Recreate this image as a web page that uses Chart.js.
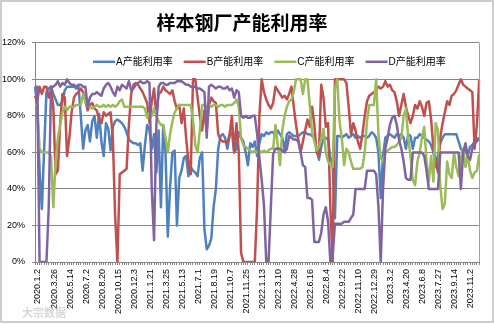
<!DOCTYPE html>
<html><head><meta charset="utf-8">
<script src="https://cdn.jsdelivr.net/npm/chart.js@4.4.0/dist/chart.umd.min.js"></script>
<style>html,body{margin:0;padding:0;background:#fff;}#wrap{width:494px;height:325px;position:relative;}</style>
</head><body><div id="wrap"><canvas id="c"></canvas></div>
<script>
const tickLabels = ["2020.1.2","2020.3.26","2020.5.14","2020.7.2","2020.8.20","2020.10.15","2020.12.3","2021.1.21","2021.3.25","2021.5.13","2021.7.1","2021.8.19","2021.10.7","2021.11.25","2022.1.13","2022.3.10","2022.4.28","2022.6.16","2022.8.4","2022.9.22","2022.11.10","2022.12.29","2023.3.2","2023.4.20","2023.6.8","2023.7.27","2023.9.14","2023.11.2"];
const seriesNames = ["A产能利用率","B产能利用率","C产能利用率","D产能利用率"];
const seriesA = [96,85,50,29,62,93,95,96,92,89,
 86,86,88,94,96,96,96,96,95,96,
 80,62,72,75,66,77,80,68,81,66,
 58,76,73,61,74,77,78,77,76,74,
 71,67,66,65,65,64,65,50,64,75,
 72,62,70,49,72,30,75,60,14,41,
 60,61,20,46,50,57,58,47,52,50,
 49,47,57,60,18,7,9,13,30,40,
 62,69,70,68,62,69,71,60,62,71,
 68,66,60,53,65,63,66,58,65,70,
 69,71,70,71,71,69,72,70,68,61,
 70,71,70,69,69,69,70,71,71,70,
 70,69,68,62,56,63,68,68,67,57,
 53,24,69,69,68,69,70,68,69,70,
 68,69,68,69,69,68,69,71,70,68,
 60,35,58,68,69,70,69,68,70,69,
 70,68,62,70,69,62,68,68,70,69,
 68,67,66,64,60,52,59,65,68,70,
 70,70,70,70,70,66,62,60,61,58,
 63,64,66,67,68];
const seriesB = [91,88,96,92,96,96,90,94,85,48,
 50,76,92,90,58,68,82,90,92,93,
 95,93,88,83,86,87,84,83,78,76,
 82,80,81,82,68,25,0,48,49,50,
 51,75,92,97,98,97,95,93,90,87,
 76,88,95,80,92,93,96,94,93,92,
 94,88,84,86,76,84,68,55,48,100,
 100,90,80,72,83,72,86,90,88,87,
 70,67,66,66,65,70,80,60,76,60,
 5,0,0,0,0,0,0,30,80,100,
 93,89,86,84,87,96,94,92,90,91,
 89,92,96,85,75,67,60,66,72,78,
 74,85,75,60,58,97,90,74,76,30,
 0,100,100,100,100,100,98,85,70,76,
 72,66,62,70,80,88,91,92,93,94,
 96,95,96,99,96,97,94,93,88,80,
 86,92,85,80,76,80,86,84,88,85,
 80,87,88,78,62,55,49,68,76,82,
 88,86,91,92,94,97,100,97,96,95,
 94,93,62,75,100];
const seriesC = [86,86,62,60,60,60,60,58,30,55,
 68,75,82,85,83,85,85,85,86,86,
 86,92,88,85,85,84,85,86,85,85,
 86,85,86,85,86,85,86,88,89,85,
 85,85,85,85,85,85,85,85,84,79,
 82,80,84,80,77,75,75,68,60,70,
 77,82,84,86,86,86,86,86,86,78,
 64,60,72,86,86,85,86,85,86,86,
 85,86,86,85,86,86,86,87,89,85,
 68,64,63,62,61,60,61,60,61,60,
 61,60,61,62,62,75,64,53,72,80,
 85,88,89,93,100,100,100,92,100,100,
 86,71,66,61,63,67,73,60,55,53,
 52,95,100,77,68,53,62,60,55,51,
 51,51,51,52,60,77,86,86,86,100,
 70,57,55,60,61,62,63,63,64,66,
 68,80,84,68,58,45,42,55,60,68,
 74,55,44,58,44,76,72,42,29,32,
 55,48,46,60,52,47,57,62,52,59,
 50,46,49,50,59];
const seriesD = [96,96,0,0,0,0,30,96,96,97,
 99,96,98,97,100,98,97,97,96,97,
 97,96,96,85,90,92,92,93,92,91,
 95,97,98,96,93,91,96,94,97,96,
 95,99,94,95,97,98,99,98,98,99,
 98,40,12,75,96,98,98,97,97,98,
 98,98,99,99,99,98,97,97,96,96,
 96,95,95,94,93,68,96,97,96,95,
 96,96,95,95,96,94,95,90,94,93,
 80,79,80,79,79,80,80,70,57,45,
 31,0,0,30,59,62,62,62,61,60,
 62,69,68,67,67,66,60,53,52,35,
 35,34,11,11,11,16,26,30,22,0,
 3,21,21,21,21,22,22,22,24,26,
 40,40,40,40,40,50,50,50,50,48,
 30,0,40,62,68,75,79,80,75,67,
 62,55,46,45,45,60,60,60,60,60,
 58,50,40,40,40,40,40,60,60,60,
 60,60,60,60,60,60,40,60,65,58,
 56,62,65,66,68];
const yTicks = [0,20,40,60,80,100,120];

const N = seriesA.length;
const categories = Array.from({length: N}, (_, i) => (i % 7 === 0 && tickLabels[i / 7]) ? tickLabels[i / 7] : '');
const colors = ['#4F81BD', '#C0504D', '#9BBB59', '#8064A2'];
const allSeries = [seriesA, seriesB, seriesC, seriesD];

const frameAndLegend = {
  id: 'frameAndLegend',
  beforeDraw(chart) {
    const ctx = chart.ctx;
    ctx.save();
    ctx.fillStyle = '#fff';
    ctx.fillRect(0, 0, chart.width, chart.height);
    ctx.strokeStyle = '#bdbdbd';
    ctx.lineWidth = 1.5;
    ctx.strokeRect(1, 1, chart.width - 2, chart.height - 4);
    ctx.restore();
  },
  afterDraw(chart) {
    const {ctx, chartArea} = chart;
    ctx.save();
    // right plot edge
    ctx.strokeStyle = '#a0a0a0';
    ctx.lineWidth = 1;
    ctx.beginPath();
    ctx.moveTo(Math.round(chartArea.right) + 0.5, chartArea.top);
    ctx.lineTo(Math.round(chartArea.right) + 0.5, chartArea.bottom);
    ctx.stroke();
    // legend inside plot
    ctx.font = "10px 'Liberation Sans','Noto Sans CJK SC',sans-serif";
    ctx.textBaseline = 'middle';
    let x = chartArea.left + 58;
    const y = chartArea.top + 19;
    chart.data.datasets.forEach(ds => {
      ctx.strokeStyle = ds.borderColor;
      ctx.lineWidth = 2.5;
      ctx.beginPath();
      ctx.moveTo(x, y);
      ctx.lineTo(x + 22, y);
      ctx.stroke();
      ctx.fillStyle = '#000';
      ctx.fillText(ds.label, x + 23, y + 0.5);
      x += 23 + ctx.measureText(ds.label).width + 11;
    });
    // watermark
    ctx.font = "bold 11px 'Noto Sans CJK SC',sans-serif";
    ctx.fillStyle = 'rgba(200,200,200,0.7)';
    ctx.textBaseline = 'middle';
    ctx.fillText('大宗数据', 22, 313);
    ctx.restore();
  }
};

new Chart(document.getElementById('c'), {
  type: 'line',
  data: {
    labels: categories,
    datasets: allSeries.map((s, k) => ({
      label: seriesNames[k],
      data: s,
      borderColor: colors[k],
      backgroundColor: colors[k],
      borderWidth: 2.5,
      pointRadius: 0,
      tension: 0,
      fill: false,
      borderJoinStyle: 'round',
      order: 3 - k
    }))
  },
  options: {
    responsive: true,
    maintainAspectRatio: false,
    animation: false,
    layout: {padding: {left: 0, right: 10, top: 0, bottom: 0}},
    plugins: {
      legend: {display: false},
      tooltip: {enabled: false},
      title: {
        display: true,
        text: '样本钢厂产能利用率',
        color: '#000',
        font: {family: "'Noto Sans CJK SC',sans-serif", size: 19, weight: 'bold'},
        padding: {top: 11, bottom: 9}
      }
    },
    scales: {
      x: {
        type: 'category',
        offset: false,
        grid: {display: true, drawOnChartArea: false, drawTicks: true, tickLength: 3, color: '#868686'},
        border: {color: '#868686'},
        ticks: {
          autoSkip: false, maxRotation: 90, minRotation: 90, padding: 4, labelOffset: 3,
          color: '#000', font: {family: "'Liberation Sans',sans-serif", size: 9},
          callback: (v, i) => categories[i]
        },
        afterFit: s => { s.height = 63; }
      },
      y: {
        min: 0, max: 120,
        afterBuildTicks: s => { s.ticks = yTicks.map(v => ({value: v})); },
        grid: {color: '#868686', tickLength: 3, drawTicks: true},
        border: {color: '#868686'},
        ticks: {
          padding: 7, color: '#000', font: {family: "'Liberation Sans',sans-serif", size: 9},
          callback: v => v + '%'
        },
        afterFit: s => { s.width = 35; }
      }
    }
  },
  plugins: [frameAndLegend]
});
</script></body></html>
